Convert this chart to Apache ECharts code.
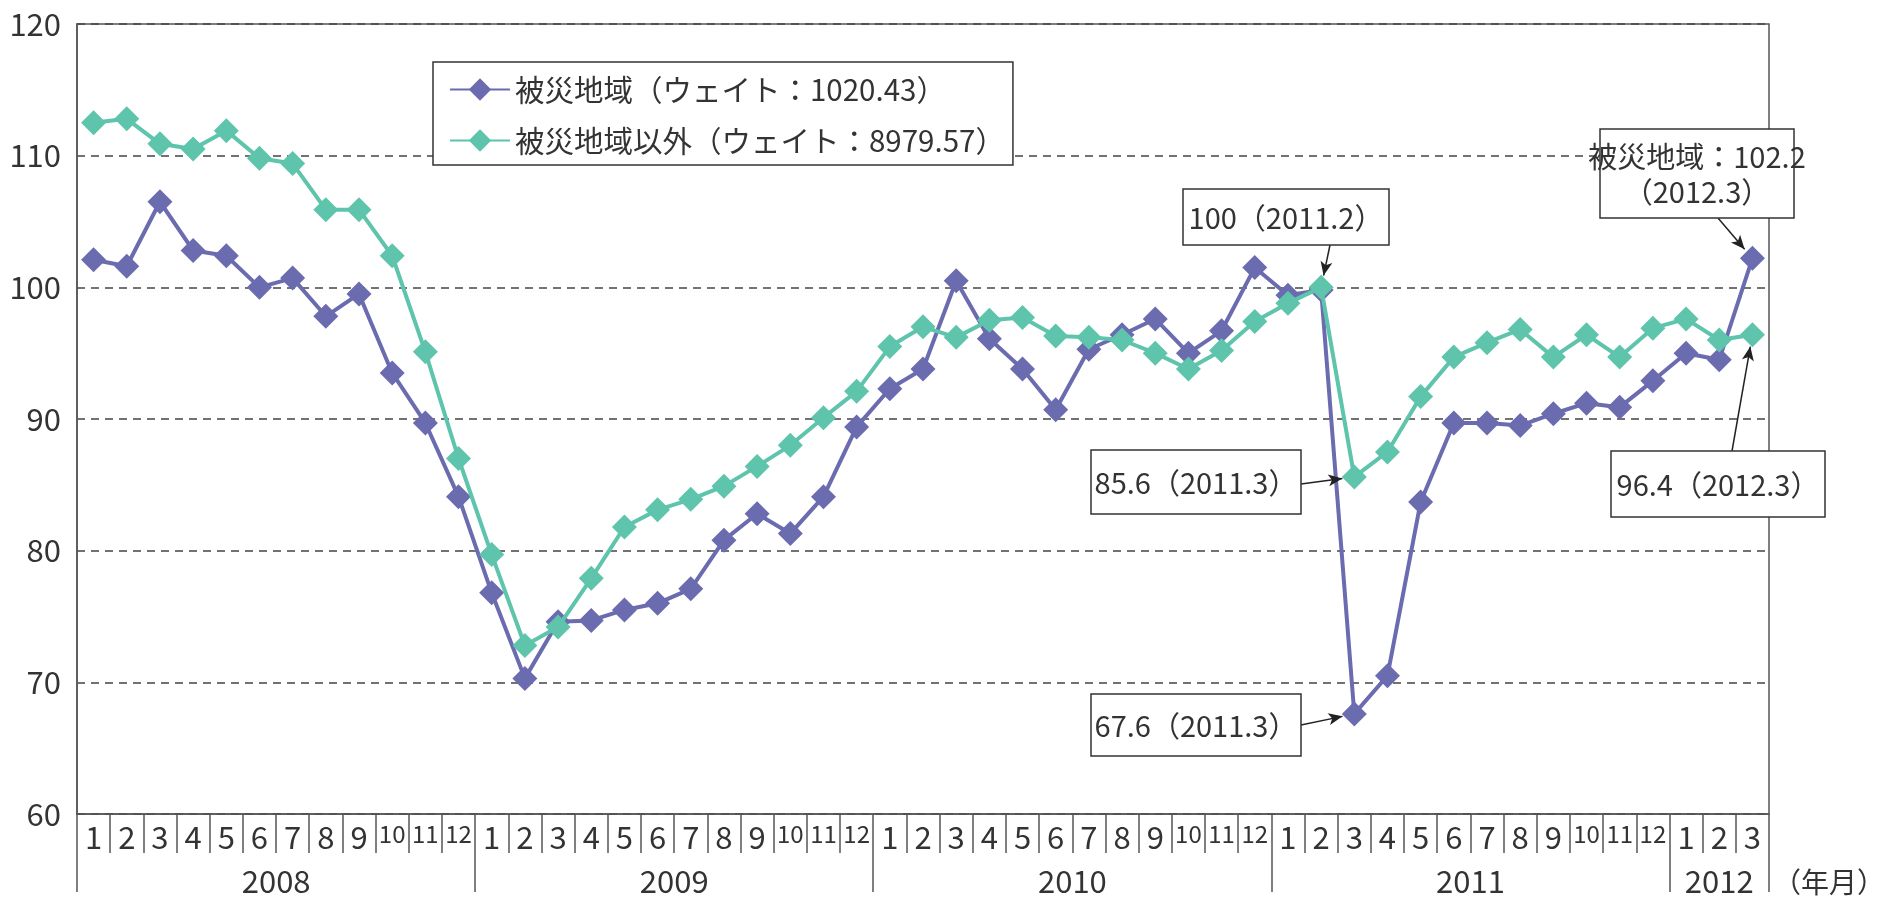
<!DOCTYPE html>
<html>
<head>
<meta charset="utf-8">
<title>被災地域と被災地域以外の推移</title>
<script src="https://cdn.jsdelivr.net/npm/echarts@6/dist/echarts.min.js"></script>
<style>
  html, body { margin: 0; padding: 0; background: #fff; }
  #chart { width: 1877px; height: 897px; }
</style>
</head>
<body>
<div id="chart"></div>
<script>
// 年と各年の月数（2008.1 〜 2012.3）
const years = ['2008', '2009', '2010', '2011', '2012'];
const monthsInYear = [12, 12, 12, 12, 3];

// 被災地域（ウェイト：1020.43）
const disasterArea = [
    102.1, 101.6, 106.5, 102.8, 102.4, 100.0, 100.7, 97.8, 99.5, 93.5, 89.7, 84.1,
    76.8, 70.3, 74.6, 74.7, 75.5, 76.0, 77.1, 80.8, 82.8, 81.3, 84.1, 89.4,
    92.3, 93.8, 100.5, 96.1, 93.8, 90.7, 95.3, 96.4, 97.6, 95.0, 96.7, 101.5,
    99.4, 99.8, 67.6, 70.5, 83.7, 89.7, 89.7, 89.5, 90.4, 91.2, 90.9, 92.9,
    95.0, 94.5, 102.2
];
// 被災地域以外（ウェイト：8979.57）
const otherArea = [
    112.5, 112.8, 110.9, 110.5, 111.9, 109.8, 109.4, 105.9, 105.9, 102.4, 95.1, 87.0,
    79.7, 72.8, 74.2, 77.9, 81.8, 83.1, 83.9, 84.9, 86.4, 88.0, 90.1, 92.1,
    95.5, 97.0, 96.2, 97.5, 97.7, 96.3, 96.2, 96.0, 95.0, 93.8, 95.2, 97.4,
    98.8, 100.0, 85.6, 87.5, 91.7, 94.7, 95.8, 96.8, 94.7, 96.4, 94.7, 96.9,
    97.6, 96.0, 96.4
];

const seriesNames = ['被災地域（ウェイト：1020.43）', '被災地域以外（ウェイト：8979.57）'];
const seriesColors = ['#6b6baf', '#5ec4ac'];

// 注記（テキスト・対象点・枠の位置[x, y, w, h]・矢印の始点）
const notes = [
    { text: '100（2011.2）', series: 1, idx: 37, box: [1183, 189, 206, 56], from: [1330, 245] },
    { text: '85.6（2011.3）', series: 1, idx: 38, box: [1091, 450, 210, 64], from: [1301, 484] },
    { text: '67.6（2011.3）', series: 0, idx: 38, box: [1091, 694, 210, 62], from: [1301, 725] },
    { text: '被災地域：102.2\n（2012.3）', series: 0, idx: 50, box: [1600, 129, 194, 89], from: [1718, 218] },
    { text: '96.4（2012.3）', series: 1, idx: 50, box: [1611, 451, 214, 66], from: [1732, 451] }
];

const FONT = '"Noto Sans CJK JP", sans-serif';
const INK = '#333';
const AXIS = '#555';
const BAND = 33;

// カテゴリ（年.月）と年ラベル位置
const categories = [];
const yearStarts = [];
const yearLabels = {};
years.forEach((y, i) => {
    const start = categories.length;
    const n = monthsInYear[i];
    yearStarts.push(start);
    for (let m = 1; m <= n; m++) categories.push(y + '.' + m);
    if (n % 2 === 0) yearLabels[start + n / 2] = { text: y, shift: true };
    else yearLabels[start + (n - 1) / 2] = { text: y, shift: false };
});
const seriesData = [disasterArea, otherArea];

const chart = echarts.init(document.getElementById('chart'));

const option = {
    animation: false,
    textStyle: { fontFamily: FONT },
    grid: {
        left: 77, right: 108, top: 24, bottom: 83,
        outerBoundsMode: 'none',
        show: true, borderColor: AXIS, borderWidth: 1.5, backgroundColor: 'transparent'
    },
    legend: {
        orient: 'vertical',
        left: 433, top: 62,
        padding: [12, 8, 9, 16],
        borderColor: INK, borderWidth: 1.5,
        backgroundColor: '#fff',
        itemWidth: 60, itemHeight: 28, itemGap: 20,
        textStyle: { fontSize: 29.5, color: INK, fontFamily: FONT, lineHeight: 31 },
        data: seriesNames
    },
    xAxis: [
        {
            type: 'category',
            data: categories,
            position: 'bottom',
            boundaryGap: true,
            axisLine: { show: true, lineStyle: { color: AXIS, width: 1.5 } },
            axisTick: { show: true, interval: 0, length: 39, lineStyle: { color: AXIS, width: 1.5 } },
            axisLabel: {
                interval: 0, margin: 8, color: INK, fontSize: 31, fontFamily: FONT,
                formatter: (v) => {
                    const m = v.split('.')[1];
                    return m.length > 1 ? '{d|' + m + '}' : m;
                },
                rich: { d: { fontSize: 24, fontFamily: FONT, color: INK } }
            },
            splitLine: { show: false }
        },
        {
            type: 'category',
            data: categories,
            position: 'bottom',
            boundaryGap: true,
            axisLine: { show: false },
            axisTick: {
                show: true, length: 78,
                interval: (i) => yearStarts.indexOf(i) >= 0,
                lineStyle: { color: AXIS, width: 1.5 }
            },
            axisLabel: {
                margin: 52, color: INK, fontSize: 31, fontFamily: FONT,
                interval: (i) => yearLabels[i] !== undefined,
                formatter: (v, i) => {
                    const lab = yearLabels[i];
                    if (!lab) return '';
                    return lab.shift ? '{s|' + lab.text + '}' : lab.text;
                },
                rich: { s: { padding: [0, BAND, 0, 0], fontSize: 31, fontFamily: FONT, color: INK } }
            },
            splitLine: { show: false }
        },
        {
            // 軸名（年月）だけを年ラベルの高さに置く
            type: 'category',
            data: categories,
            position: 'bottom',
            offset: 68,
            axisLine: { show: false },
            axisTick: { show: false },
            axisLabel: { show: false },
            splitLine: { show: false },
            name: '（年月）',
            nameLocation: 'end',
            nameGap: 4,
            nameTextStyle: { fontSize: 28, color: INK, fontFamily: FONT }
        }
    ],
    yAxis: {
        type: 'value',
        min: 60, max: 120, interval: 10,
        axisLine: { show: true, lineStyle: { color: AXIS, width: 1.5 } },
        axisTick: { show: false },
        axisLabel: { margin: 16, color: INK, fontSize: 31, fontFamily: FONT },
        splitLine: { show: true, lineStyle: { color: '#444', width: 1.5, type: [8, 6] } }
    },
    series: seriesNames.map((name, i) => ({
        name: name,
        type: 'line',
        xAxisIndex: 0,
        data: seriesData[i],
        symbol: 'diamond',
        symbolSize: 25,
        showSymbol: true,
        color: seriesColors[i],
        itemStyle: { color: seriesColors[i] },
        lineStyle: { color: seriesColors[i], width: 4 },
        emphasis: { disabled: true },
        z: 2 + i
    })),
    graphic: notes.map((n) => ({
        type: 'group',
        x: n.box[0], y: n.box[1], z: 50,
        children: [
            {
                type: 'rect',
                z: 50,
                shape: { x: 0, y: 0, width: n.box[2], height: n.box[3] },
                style: { fill: '#fff', stroke: INK, lineWidth: 1.5 }
            },
            {
                type: 'text',
                z: 51,
                x: n.box[2] / 2, y: n.box[3] / 2 + 1,
                style: {
                    text: n.text, fill: INK, font: '29px ' + FONT,
                    align: 'center', verticalAlign: 'middle', lineHeight: 35
                }
            }
        ]
    }))
};

chart.setOption(option);

// 矢印：枠から各点のマーカー手前まで
const arrows = notes.map((n) => {
    const p = chart.convertToPixel({ xAxisIndex: 0, yAxisIndex: 0 },
        [categories[n.idx], seriesData[n.series][n.idx]]);
    const dx = n.from[0] - p[0];
    const dy = n.from[1] - p[1];
    const len = Math.sqrt(dx * dx + dy * dy);
    const r = 12;
    return [
        { x: n.from[0], y: n.from[1] },
        { x: p[0] + dx / len * r, y: p[1] + dy / len * r }
    ];
});

chart.setOption({
    series: [{
        markLine: {
            silent: true,
            animation: false,
            symbol: ['none', 'arrow'],
            symbolSize: [9, 14],
            label: { show: false },
            lineStyle: { color: '#222', width: 1.5, type: 'solid' },
            data: arrows
        }
    }]
});

window.onresize = () => chart.resize();
</script>
</body>
</html>
